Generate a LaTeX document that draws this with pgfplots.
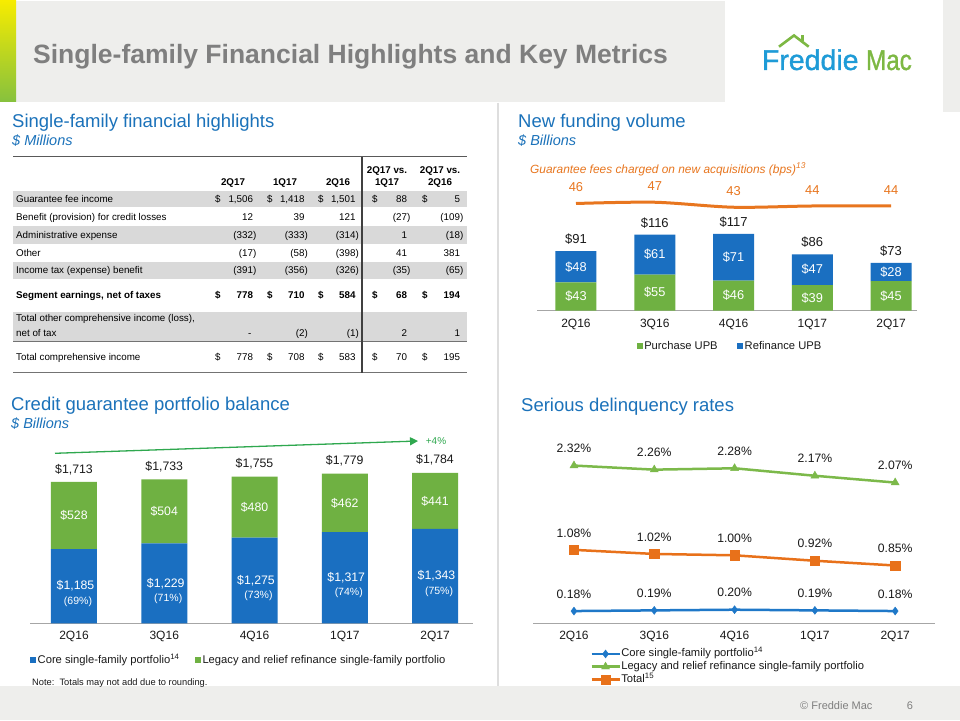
\documentclass[border=0pt]{standalone}
\usepackage{pgfplots}
\pgfplotsset{compat=1.18}
\usepackage{fontspec}
\setmainfont{Liberation Sans}
\newfontface\logofont[FakeBold=1.2]{Liberation Sans}
\usetikzlibrary{arrows.meta,calc}

\definecolor{hdr}{HTML}{EEEEEC}
\definecolor{titlegray}{HTML}{7F7F7F}
\definecolor{secblue}{HTML}{1B72BA}
\definecolor{barblue}{HTML}{1A6FC1}
\definecolor{bargreen}{HTML}{6FB142}
\definecolor{orng}{HTML}{E8761F}
\definecolor{dlblue}{HTML}{1F78C8}
\definecolor{dlgreen}{HTML}{7CB94A}
\definecolor{dlorange}{HTML}{E8711A}
\definecolor{arrgreen}{HTML}{2FA84F}
\definecolor{txt}{HTML}{1A1A1A}
\definecolor{axgray}{HTML}{A6A6A6}
\definecolor{rowgray}{HTML}{D9D9D9}
\definecolor{logoblue}{HTML}{1E9BD7}
\definecolor{logogreen}{HTML}{7DB843}
\definecolor{stripyellow}{HTML}{F7EC00}
\definecolor{stripgreen}{HTML}{86C13E}

\newcommand{\fs}[1]{\fontsize{#1}{#1}\selectfont}
\newcommand{\pp}{\phantom{)}}
\newcommand{\lab}[4]{\node[font=\fs{#1}, text=#2, inner sep=0] at (#3) {#4};}
% table row: y, label, five values
\newcommand{\trow}[7]{%
  \node[anchor=base west] at (16,{716.5-#1}) {#2};
  \node[anchor=base east] at (256.5,{716.5-#1}) {#3};
  \node[anchor=base east] at (308,{716.5-#1}) {#4};
  \node[anchor=base east] at (359,{716.5-#1}) {#5};
  \node[anchor=base east] at (410.5,{716.5-#1}) {#6};
  \node[anchor=base east] at (463.5,{716.5-#1}) {#7};}
\newcommand{\tdol}[2]{%
  \node[anchor=base west] at (215,{716.5-#2}) {#1\$};
  \node[anchor=base west] at (267,{716.5-#2}) {#1\$};
  \node[anchor=base west] at (318,{716.5-#2}) {#1\$};
  \node[anchor=base west] at (372,{716.5-#2}) {#1\$};
  \node[anchor=base west] at (422,{716.5-#2}) {#1\$};}

\pgfplotsset{
  myaxis/.style={
    scale only axis, anchor=south west,
    hide y axis, axis x line*=bottom,
    x axis line style={draw=axgray, line width=1pt},
    xtick={0,1,2,3,4}, xticklabels={2Q16,3Q16,4Q16,1Q17,2Q17},
    major tick length=0pt,
    xticklabel style={font=\fs{12}, text=txt, anchor=center, yshift=-13.5pt},
    /pgf/number format/assume math mode=true,
  },
  sqlegend/.style={
    legend image code/.code={\fill[##1] (0pt,-3pt) rectangle (6pt,3pt);}
  },
  lnlegend/.style={
    legend image code/.code={\draw[mark repeat=2,mark phase=2,##1] plot coordinates {(0pt,0pt) (14pt,0pt) (28pt,0pt)};}
  }
}

\begin{document}
\begin{tikzpicture}[x=1pt,y=1pt]
\fill[white] (0,0) rectangle (960,720);
\path[use as bounding box] (0,0) rectangle (960,720);

% ---------- header ----------
\fill[hdr] (16,618) rectangle (725,719);
\shade[top color=stripyellow, bottom color=stripgreen] (0,618) rectangle (16,720);
\fill[hdr] (943,608) rectangle (960,720);
\node[anchor=base west, inner sep=0, font=\bfseries\fs{26.5}, text=titlegray] at (33,656.7)
  {Single-family Financial Highlights and Key Metrics};
% logo
\node[anchor=base west, inner sep=0, font=\logofont\fs{28.5}, text=logoblue] at (761.7,650) {Freddie};
\node[anchor=base east, inner sep=0, font=\logofont\fs{28.5}, text=logogreen, xscale=0.85] at (912,650) {Mac};
\draw[logogreen, line width=2.6pt, line join=miter] (779,673.3) -- (794,684.5) -- (808.7,673.3);
\draw[logogreen, line width=2.4pt] (802.5,679) -- (802.5,684.5);

% ---------- footer ----------
\fill[hdr] (0,0) rectangle (960,34);
\node[anchor=base west, inner sep=0, font=\fs{11}, text=titlegray] at (800,11) {\textcopyright\ Freddie Mac};
\node[anchor=base, inner sep=0, font=\fs{11}, text=titlegray] at (910,11) {6};

% divider
\draw[draw=black!13, line width=2pt] (497.7,617) -- (497.7,34);

% ---------- section titles ----------
\begin{scope}[every node/.style={anchor=base west, inner sep=0, text=secblue}]
\node[font=\fs{18.5}] at (12,{720-127.5}) {Single-family financial highlights};
\node[font=\itshape\fs{14.5}] at (12,{720-146}) {\$ Millions};
\node[font=\fs{18.5}] at (518,{720-127.5}) {New funding volume};
\node[font=\itshape\fs{14.5}] at (518,{720-146}) {\$ Billions};
\node[font=\fs{18.5}] at (11,{720-410.7}) {Credit guarantee portfolio balance};
\node[font=\itshape\fs{14.5}] at (11,{720-428.5}) {\$ Billions};
\node[font=\fs{18.5}] at (521,{720-411.7}) {Serious delinquency rates};
\end{scope}

% ---------- table ----------
\fill[rowgray] (13,{720-190.7}) rectangle (467,{720-207.3});
\fill[rowgray] (13,{720-226}) rectangle (467,{720-244});
\fill[rowgray] (13,{720-262}) rectangle (467,{720-279.5});
\fill[rowgray] (13,{720-311.7}) rectangle (467,{720-341.7});
\draw[black!65, line width=1pt] (13,{720-157}) -- (467,{720-157});
\draw[black!55, line width=0.8pt] (13,{720-341.7}) -- (467,{720-341.7});
\draw[black!55, line width=0.8pt] (13,{720-372.7}) -- (467,{720-372.7});
\draw[black!75, line width=1.2pt] (362,{720-157}) -- (362,{720-372.7});
\begin{scope}[every node/.style={inner sep=0, font=\fs{9.8}, text=black}]
\node[anchor=base, font=\bfseries\fs{9.8}] at (233,{716.5-182}) {2Q17};
\node[anchor=base, font=\bfseries\fs{9.8}] at (285,{716.5-182}) {1Q17};
\node[anchor=base, font=\bfseries\fs{9.8}] at (338,{716.5-182}) {2Q16};
\node[anchor=base, font=\bfseries\fs{9.8}] at (387,{716.5-170}) {2Q17 vs.};
\node[anchor=base, font=\bfseries\fs{9.8}] at (387,{716.5-182}) {1Q17};
\node[anchor=base, font=\bfseries\fs{9.8}] at (440,{716.5-170}) {2Q17 vs.};
\node[anchor=base, font=\bfseries\fs{9.8}] at (440,{716.5-182}) {2Q16};
\trow{199.3}{Guarantee fee income}{1,506\pp}{1,418\pp}{1,501\pp}{88\pp}{5\pp}
\tdol{}{199.3}
\trow{216.7}{Benefit (provision) for credit losses}{12\pp}{39\pp}{121\pp}{(27)}{(109)}
\trow{235}{Administrative expense}{(332)}{(333)}{(314)}{1\pp}{(18)}
\trow{252.7}{Other}{(17)}{(58)}{(398)}{41\pp}{381\pp}
\trow{270}{Income tax (expense) benefit}{(391)}{(356)}{(326)}{(35)}{(65)}
\trow{295}{\bfseries Segment earnings, net of taxes}{\bfseries 778\pp}{\bfseries 710\pp}{\bfseries 584\pp}{\bfseries 68\pp}{\bfseries 194\pp}
\tdol{\bfseries}{295}
\node[anchor=base west] at (16,{716.5-318.3}) {Total other comprehensive income (loss),};
\trow{332.7}{net of tax}{-\pp\,}{(2)}{(1)}{2\pp}{1\pp}
\trow{357.3}{Total comprehensive income}{778\pp}{708\pp}{583\pp}{70\pp}{195\pp}
\tdol{}{357.3}
\end{scope}

% ---------- New funding volume ----------
\node[anchor=base west, inner sep=0, font=\itshape\fs{11.9}, text=orng] at (530,{720-173.2})
  {Guarantee fees charged on new acquisitions (bps)\textsuperscript{13}};

\begin{axis}[myaxis, at={(537pt,409.3pt)}, width=380pt, height=90.7pt,
  xmin=-0.495, xmax=4.33, ymin=0, ymax=138.3,
  ybar stacked, bar width=41pt, clip=false, sqlegend,
  legend style={at={(0.262,-0.389)}, anchor=west, draw=none, fill=none,
    legend columns=2, font=\fs{11.2}, inner sep=0pt,
    /tikz/every even column/.append style={column sep=18pt},
    nodes={inner sep=1.5pt, text=txt}}]
\addplot[fill=bargreen, draw=none] coordinates {(0,43) (1,55) (2,46) (3,39) (4,45)};
\addlegendentry{Purchase UPB}
\addplot[fill=barblue, draw=none] coordinates {(0,48) (1,61) (2,71) (3,47) (4,28)};
\addlegendentry{Refinance UPB}
\coordinate (pa0) at (axis cs:0,21.5);  \coordinate (pa1) at (axis cs:1,27.5);
\coordinate (pa2) at (axis cs:2,23);    \coordinate (pa3) at (axis cs:3,19.5);
\coordinate (pa4) at (axis cs:4,22.5);
\coordinate (ra0) at (axis cs:0,67);    \coordinate (ra1) at (axis cs:1,85.5);
\coordinate (ra2) at (axis cs:2,81.5);  \coordinate (ra3) at (axis cs:3,62.5);
\coordinate (ra4) at (axis cs:4,59);
\coordinate (ta0) at (axis cs:0,109);   \coordinate (ta1) at (axis cs:1,134);
\coordinate (ta2) at (axis cs:2,135);   \coordinate (ta3) at (axis cs:3,104);
\coordinate (ta4) at (axis cs:4,91);
\end{axis}
\lab{12.8}{white}{pa0}{\$43} \lab{12.8}{white}{pa1}{\$55} \lab{12.8}{white}{pa2}{\$46}
\lab{12.8}{white}{pa3}{\$39} \lab{12.8}{white}{pa4}{\$45}
\lab{12.8}{white}{ra0}{\$48} \lab{12.8}{white}{ra1}{\$61} \lab{12.8}{white}{ra2}{\$71}
\lab{12.8}{white}{ra3}{\$47} \lab{12.8}{white}{ra4}{\$28}
\lab{13}{txt}{ta0}{\$91} \lab{13}{txt}{ta1}{\$116} \lab{13}{txt}{ta2}{\$117}
\lab{13}{txt}{ta3}{\$86} \lab{13}{txt}{ta4}{\$73}

\begin{axis}[scale only axis, anchor=south west, at={(537pt,505pt)}, width=380pt, height=20pt,
  xmin=-0.495, xmax=4.33, ymin=36.8, ymax=52.8, hide axis, clip=false,
  /pgf/number format/assume math mode=true]
\addplot[orng, line width=3pt, smooth, nodes near coords,
  every node near coord/.append style={font=\fs{12.9}, text=orng, anchor=center, yshift=16pt}]
  coordinates {(0,46) (1,47) (2,43) (3,44) (4,44)};
\end{axis}

% ---------- Credit guarantee portfolio balance ----------
\begin{axis}[myaxis, at={(30pt,96.7pt)}, width=443pt, height=193.3pt,
  xmin=-0.4875, xmax=4.421, ymin=600, ymax=2122,
  ybar stacked, bar width=46pt, sqlegend,
  legend style={at={(0.0,-0.19)}, anchor=west, draw=none, fill=none,
    legend columns=2, font=\fs{11.2}, inner sep=0pt,
    /tikz/every even column/.append style={column sep=14pt},
    nodes={inner sep=1.5pt, text=txt}}]
\addplot[fill=barblue, draw=none] coordinates {(0,1185) (1,1229) (2,1275) (3,1317) (4,1343)};
\addlegendentry{Core single-family portfolio\textsuperscript{14}}
\addplot[fill=bargreen, draw=none] coordinates {(0,528) (1,504) (2,480) (3,462) (4,441)};
\addlegendentry{Legacy and relief refinance single-family portfolio}
\coordinate (cb0) at (axis cs:0,892.5);  \coordinate (cb1) at (axis cs:1,914.5);
\coordinate (cb2) at (axis cs:2,937.5);  \coordinate (cb3) at (axis cs:3,958.5);
\coordinate (cb4) at (axis cs:4,971.5);
\coordinate (cp0) at (axis cs:0,772.5);  \coordinate (cp1) at (axis cs:1,794.5);
\coordinate (cp2) at (axis cs:2,817.5);  \coordinate (cp3) at (axis cs:3,838.5);
\coordinate (cp4) at (axis cs:4,851.5);
\coordinate (lb0) at (axis cs:0,1449);   \coordinate (lb1) at (axis cs:1,1481);
\coordinate (lb2) at (axis cs:2,1515);   \coordinate (lb3) at (axis cs:3,1548);
\coordinate (lb4) at (axis cs:4,1563.5);
\coordinate (tb0) at (axis cs:0,1813);   \coordinate (tb1) at (axis cs:1,1833);
\coordinate (tb2) at (axis cs:2,1855);   \coordinate (tb3) at (axis cs:3,1879);
\coordinate (tb4) at (axis cs:4,1884);
\end{axis}
\lab{12.3}{white}{$(cb0)+(1.5,0)$}{\$1,185} \lab{12.3}{white}{$(cb1)+(1.5,0)$}{\$1,229}
\lab{12.3}{white}{$(cb2)+(1.5,0)$}{\$1,275} \lab{12.3}{white}{$(cb3)+(1.5,0)$}{\$1,317}
\lab{12.3}{white}{$(cb4)+(1.5,0)$}{\$1,343}
\lab{10.5}{white}{$(cp0)+(4,0)$}{(69\%)} \lab{10.5}{white}{$(cp1)+(4,0)$}{(71\%)}
\lab{10.5}{white}{$(cp2)+(4,0)$}{(73\%)} \lab{10.5}{white}{$(cp3)+(4,0)$}{(74\%)}
\lab{10.5}{white}{$(cp4)+(4,0)$}{(75\%)}
\lab{12.3}{white}{lb0}{\$528} \lab{12.3}{white}{lb1}{\$504} \lab{12.3}{white}{lb2}{\$480}
\lab{12.3}{white}{lb3}{\$462} \lab{12.3}{white}{lb4}{\$441}
\lab{12.3}{txt}{tb0}{\$1,713} \lab{12.3}{txt}{tb1}{\$1,733} \lab{12.3}{txt}{tb2}{\$1,755}
\lab{12.3}{txt}{tb3}{\$1,779} \lab{12.3}{txt}{tb4}{\$1,784}
\draw[arrgreen, line width=1.3pt, -{Triangle[length=8pt,width=8pt]}] (55,{720-453.3}) -- (418,{720-441});
\node[font=\fs{10}, text=arrgreen, inner sep=0] at (436,{720-441}) {+4\%};
\node[anchor=base west, inner sep=0, font=\fs{9.3}, text=txt] at (32,{720-685}) {Note:\ \ Totals may not add due to rounding.};

% ---------- Serious delinquency rates ----------
\begin{axis}[myaxis, at={(533pt,96.7pt)}, width=402pt, height=183.3pt,
  xmin=-0.51, xmax=4.496, ymin=0, ymax=2.696, clip=false, lnlegend,
  nodes near coords={\pgfmathprintnumber[fixed,fixed zerofill,precision=2]{\pgfplotspointmeta}\%},
  every node near coord/.append style={font=\fs{12.2}, text=txt, anchor=center, yshift=17pt},
  legend style={at={(0.142,-0.237)}, anchor=west, draw=none, fill=none,
    font=\fs{11.2}, inner sep=0pt, row sep=0.8pt, legend cell align=left,
    nodes={inner sep=0.5pt, text=txt, text height=8.5pt, text depth=2.5pt}}]
\addplot[dlblue, line width=2.5pt, mark=diamond*, mark size=4pt, mark options={solid, line width=0.4pt, fill=dlblue}]
  coordinates {(0,0.18) (1,0.19) (2,0.20) (3,0.19) (4,0.18)};
\addlegendentry{Core single-family portfolio\textsuperscript{14}}
\addplot[dlgreen, line width=2.5pt, mark=triangle*, mark size=4.6pt, mark options={solid, line width=0.4pt, fill=dlgreen}]
  coordinates {(0,2.32) (1,2.26) (2,2.28) (3,2.17) (4,2.07)};
\addlegendentry{Legacy and relief refinance single-family portfolio}
\addplot[dlorange, line width=2.5pt, mark=square*, mark size=4.7pt, mark options={solid, line width=0.4pt, fill=dlorange}]
  coordinates {(0,1.08) (1,1.02) (2,1.00) (3,0.92) (4,0.85)};
\addlegendentry{Total\textsuperscript{15}}
\end{axis}
\end{tikzpicture}
\end{document}
